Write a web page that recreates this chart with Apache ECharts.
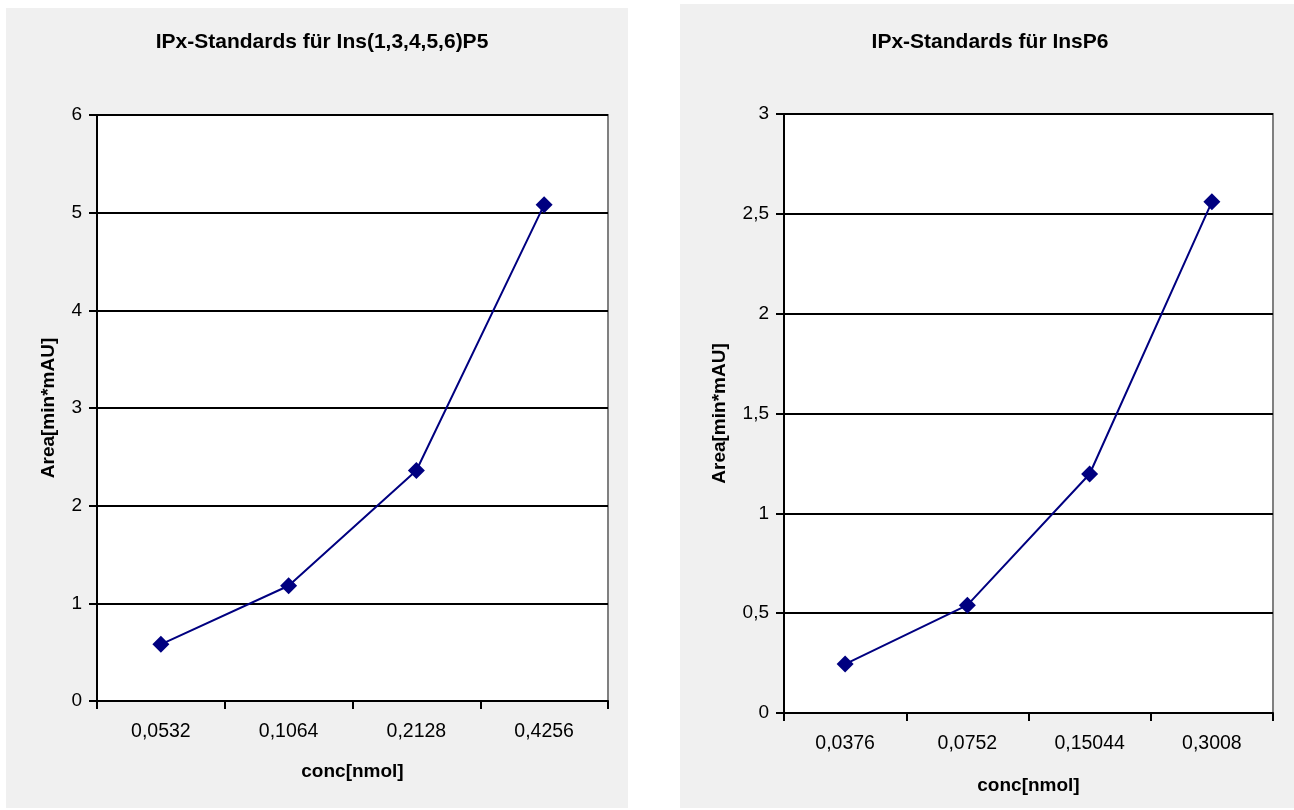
<!DOCTYPE html>
<html>
<head>
<meta charset="utf-8">
<script src="https://cdn.jsdelivr.net/npm/echarts@6/dist/echarts.min.js"></script>
<style>
  html, body { margin: 0; padding: 0; background: #ffffff; }
  #chart { width: 1294px; height: 810px; }
</style>
</head>
<body>
<div id="chart"></div>
<script>
// InsP5 standards
const p5Categories = ['0,0532', '0,1064', '0,2128', '0,4256'];
const p5Area = [0.58, 1.18, 2.36, 5.08];
// InsP6 standards
const p6Categories = ['0,0376', '0,0752', '0,15044', '0,3008'];
const p6Area = [0.245, 0.54, 1.197, 2.56];

const p5Title = 'IPx-Standards für Ins(1,3,4,5,6)P5';
const p6Title = 'IPx-Standards für InsP6';
const xName = 'conc[nmol]';
const yName = 'Area[min*mAU]';

const FONT = '"Liberation Sans", Arial, sans-serif';
const chart = echarts.init(document.getElementById('chart'), null, { renderer: 'canvas' });

function xAxis(gridIndex, cats, nameGap) {
  return {
    type: 'category', gridIndex, data: cats, boundaryGap: true,
    name: xName, nameLocation: 'middle', nameGap,
    nameTextStyle: { fontFamily: FONT, fontWeight: 'bold', fontSize: 19, color: '#000' },
    axisLine: { show: true, lineStyle: { color: '#000', width: 2 } },
    axisTick: { show: true, length: 8, inside: false, alignWithLabel: false, lineStyle: { color: '#000', width: 2 } },
    axisLabel: { fontFamily: FONT, fontSize: 19.5, color: '#000', margin: 21 },
    splitLine: { show: false }
  };
}
function yAxis(gridIndex, max, interval, nameGap) {
  return {
    type: 'value', gridIndex, min: 0, max, interval,
    name: yName, nameLocation: 'middle', nameGap, nameRotate: 90,
    nameTextStyle: { fontFamily: FONT, fontWeight: 'bold', fontSize: 19, color: '#000' },
    axisLine: { show: true, lineStyle: { color: '#000', width: 2 } },
    axisTick: { show: true, length: 8, lineStyle: { color: '#000', width: 2 } },
    axisLabel: {
      fontFamily: FONT, fontSize: 19, color: '#000', margin: 15,
      formatter: v => String(v).replace('.', ',')
    },
    splitLine: { show: true, lineStyle: { color: '#000', width: 2 } }
  };
}
function series(i, data) {
  return {
    type: 'line', xAxisIndex: i, yAxisIndex: i, data,
    symbol: 'diamond', symbolSize: 17,
    lineStyle: { color: '#000080', width: 2 },
    itemStyle: { color: '#000080' },
    z: 5
  };
}

chart.setOption({
  animation: false,
  backgroundColor: '#ffffff',
  graphic: [
    { type: 'rect', shape: { x: 6, y: 8, width: 622, height: 800 }, style: { fill: '#f0f0f0' }, z: -10 },
    { type: 'rect', shape: { x: 680, y: 4, width: 614, height: 804 }, style: { fill: '#f0f0f0' }, z: -10 }
  ],
  title: [
    { text: p5Title, left: 317, top: 27, textAlign: 'center',
      textStyle: { fontFamily: FONT, fontWeight: 'bold', fontSize: 21, color: '#000' } },
    { text: p6Title, left: 985, top: 27, textAlign: 'center',
      textStyle: { fontFamily: FONT, fontWeight: 'bold', fontSize: 21, color: '#000' } }
  ],
  grid: [
    { left: 97, top: 115, width: 511, height: 586, show: true, backgroundColor: '#ffffff',
      borderColor: '#808080', borderWidth: 2 },
    { left: 784, top: 114, width: 489, height: 599, show: true, backgroundColor: '#ffffff',
      borderColor: '#808080', borderWidth: 2 }
  ],
  xAxis: [xAxis(0, p5Categories, 61), xAxis(1, p6Categories, 63)],
  yAxis: [yAxis(0, 6, 1, 39), yAxis(1, 3, 0.5, 55)],
  series: [series(0, p5Area), series(1, p6Area)]
});
</script>
</body>
</html>
